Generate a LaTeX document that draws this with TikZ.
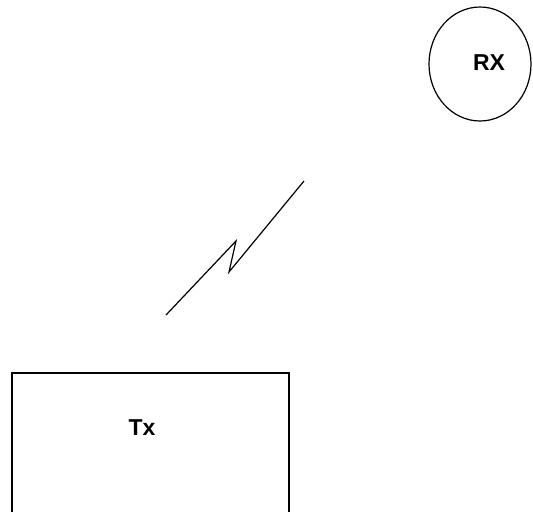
\documentclass[tikz,border=0pt]{standalone}
\usepackage{fontspec}
\setmainfont{Liberation Sans}
\tikzset{>=latex,
  lbl/.style={font=\bfseries\fontsize{23}{27}\selectfont, inner sep=0pt}}

\begin{document}
\begin{tikzpicture}[x=1pt,y=-1pt]
  \useasboundingbox (0,0) rectangle (533,512);
  % receiver
  \draw[line width=1.2pt] (480,64) ellipse [x radius=51pt, y radius=57pt];
  \node[lbl] (rx) at (489,63) {RX};
  % radio link
  \coordinate (l0) at (166,315);
  \coordinate (l1) at (236,241);
  \coordinate (l2) at (229,272);
  \coordinate (l3) at (304,181);
  \draw[line width=1.2pt] (l0) -- (l1) -- (l2) -- (l3);
  % transmitter
  \draw[line width=2pt] (12,512) -- (12,373) -- (289,373) -- (289,512);
  \node[lbl] (tx) at (142,428) {Tx};
\end{tikzpicture}
\end{document}
